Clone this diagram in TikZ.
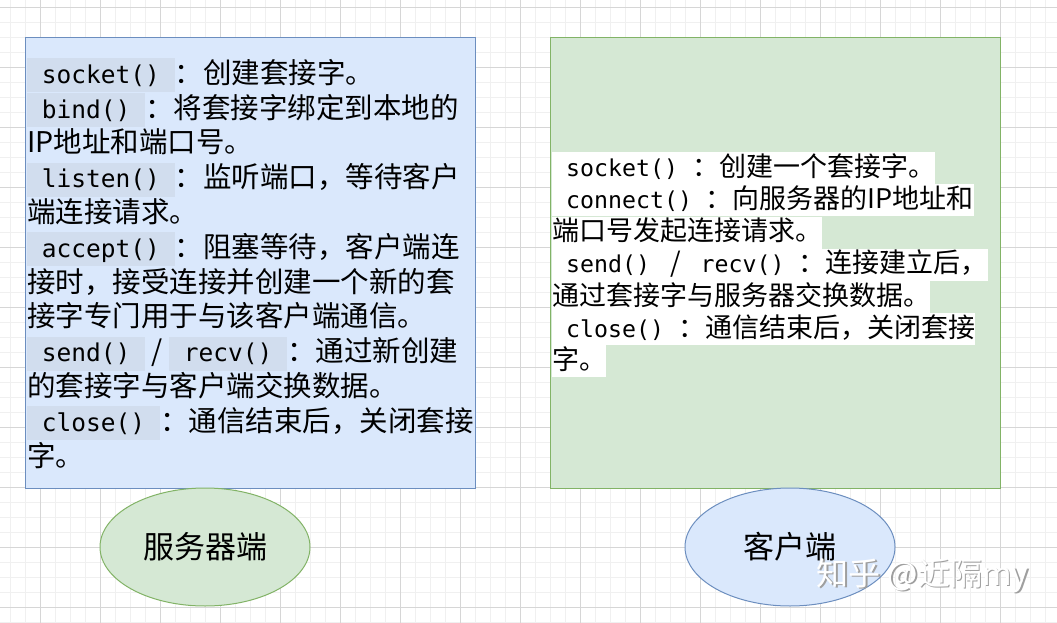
\documentclass[tikz,border=0pt]{standalone}
\usepackage{fontspec}
\setmainfont{Noto Sans CJK SC}
\setmonofont[Scale=0.86]{DejaVu Sans Mono}
\usepackage{xcolor}
\usetikzlibrary{shapes.geometric}
\definecolor{bluefill}{HTML}{DAE8FC}
\definecolor{bluedraw}{HTML}{6C8EBF}
\definecolor{greenfill}{HTML}{D5E8D4}
\definecolor{greendraw}{HTML}{82B366}
\definecolor{codebg}{HTML}{D1DDEE}
\definecolor{gridmajor}{HTML}{D6D6D6}
\definecolor{gridminor}{HTML}{F0F0F0}
\newcommand{\apicode}[1]{{\setlength{\fboxsep}{0pt}\colorbox{codebg}{\rule[-9pt]{0pt}{34pt}\ttfamily\ #1\ }}}
\newcommand{\plaincode}[1]{{\ttfamily\ #1\ }}
\newcommand{\whiteline}[1]{{\setlength{\fboxsep}{0pt}\colorbox{white}{\rule[-8pt]{0pt}{32pt}#1}}}
\tikzset{
  panel/.style={line width=1pt, minimum width=450, minimum height=450, inner sep=0},
  role/.style={ellipse, line width=1pt, minimum width=210, minimum height=118, font=\fontsize{31}{31}\selectfont},
}

\begin{document}
\begin{tikzpicture}[x=1pt,y=1pt,yscale=-1,xscale=1]
\useasboundingbox (0,0) rectangle (1057,623);
\fill[white] (0,0) rectangle (1057,623);

\foreach \x in {10,25,...,1055} \draw[gridminor] (\x,0) -- (\x,623);
\foreach \y in {7,22,...,622} \draw[gridminor] (0,\y) -- (1057,\y);
\foreach \x in {40,100,...,1000} \draw[gridmajor] (\x,0) -- (\x,623);
\foreach \y in {7,67,...,607} \draw[gridmajor] (0,\y) -- (1057,\y);

\node[panel, draw=bluedraw, fill=bluefill] (srvpanel) at (250,263) {};
\node[panel, draw=greendraw, fill=greenfill] (clipanel) at (775,263) {};

\node[anchor=north west, inner sep=0, align=left, font=\fontsize{28.5}{34.8}\selectfont] (srvtext) at (27,58) {\apicode{socket()}：创建套接字。\\
\apicode{bind()}：将套接字绑定到本地的\\
IP地址和端口号。\\
\apicode{listen()}：监听端口，等待客户\\
端连接请求。\\
\apicode{accept()}：阻塞等待，客户端连\\
接时，接受连接并创建一个新的套\\
接字专门用于与该客户端通信。\\
\apicode{send()} / \apicode{recv()}：通过新创建\\
的套接字与客户端交换数据。\\
\apicode{close()}：通信结束后，关闭套接\\
字。};

\node[anchor=north west, inner sep=0, align=left, font=\fontsize{27}{32.2}\selectfont] (clitext) at (552,152) {\whiteline{\plaincode{socket()}：创建一个套接字。}\\
\whiteline{\plaincode{connect()}：向服务器的IP地址和}\\
\whiteline{端口号发起连接请求。}\\
\whiteline{\plaincode{send()} / \plaincode{recv()}：连接建立后，}\\
\whiteline{通过套接字与服务器交换数据。}\\
\whiteline{\plaincode{close()}：通信结束后，关闭套接}\\
\whiteline{字。}};

\node[role, draw=greendraw, fill=greenfill] (server) at (205,547) {服务器端};
\node[role, draw=bluedraw, fill=bluefill] (client) at (790,547) {客户端};

\node[font=\fontsize{32}{32}\selectfont, text=gray!75] (wmshadow) at (924,577) {知乎 @近隔my};
\node[font=\fontsize{32}{32}\selectfont, text=white] (watermark) at (922.5,575.5) {知乎 @近隔my};

\end{tikzpicture}
\end{document}
